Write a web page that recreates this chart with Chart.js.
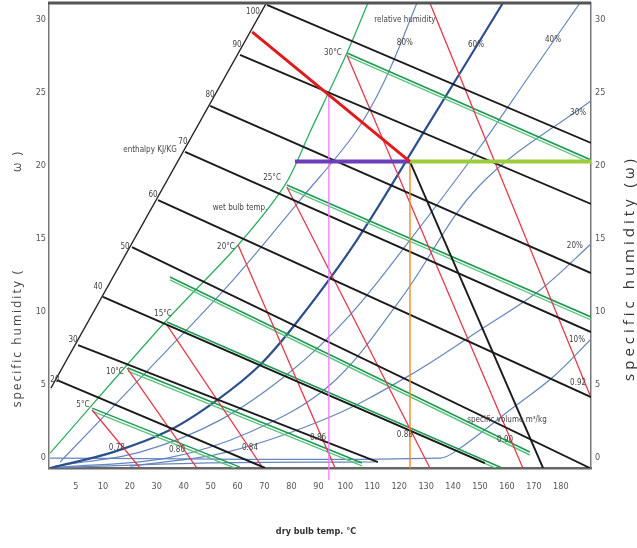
<!DOCTYPE html>
<html>
<head>
<meta charset="utf-8">
<script src="https://cdn.jsdelivr.net/npm/chart.js"></script>
<style>
  html, body { margin: 0; padding: 0; background: #fff; }
</style>
</head>
<body>
<canvas id="psyChart" width="637" height="548"></canvas>
<script>
// axis ticks
const xTickLabels = ['5','10','20','30','40','50','60','70','80','90','100','110','120','130','140','150','160','170','180'];
const yTicks = [0, 5, 10, 15, 20, 25, 30];

// enthalpy scale (slanted black line) and enthalpy lines, kJ/kg
const enthalpyScale = [[0.07, 4.79], [8.05, 31.10]];
const enthalpyValues = ['20','30','40','50','60','70','80','90','100'];
const enthalpyLines = [
  [[0.30, 5.34], [8.02, -0.68]],
  [[1.08, 7.74], [12.21, -0.27]],
  [[2.00, 11.03], [16.18, -0.34]],
  [[3.08, 14.45], [20.08, -0.68]],
  [[4.05, 17.67], [20.12, 4.18]],
  [[5.05, 20.96], [20.12, 8.63]],
  [[5.98, 24.11], [20.12, 12.67]],
  [[7.09, 27.60], [20.12, 17.40]],
  [[8.09, 31.03], [20.12, 21.58]]
];

// specific volume lines m3/kg
const volumeValues = ['0.78','0.80','0.84','0.86','0.88','0.90','0.92'];
const volumeLines = [
  [[1.60, 3.29], [3.38, -0.68]],
  [[2.90, 6.16], [5.49, -0.68]],
  [[4.38, 9.11], [7.94, -0.68]],
  [[7.02, 14.59], [10.62, -0.68]],
  [[8.83, 18.56], [14.14, -0.68]],
  [[11.06, 27.60], [17.59, -0.68]],
  [[14.14, 31.16], [20.08, 4.32]]
];

// saturation (green) and wet bulb lines
const saturationLine = [[0.04, 0.34], [4.31, 9.32], [7.02, 14.59], [8.76, 18.70], [9.69, 22.33], [11.06, 27.74], [11.84, 31.16]];
const wetBulbNames = ['5°C','10°C','15°C','20°C','25°C','30°C'];
const wetBulbLines = [
  [[1.60, 3.42], [7.09, -0.62]],
  [[2.93, 6.16], [11.62, -0.34]],
  [[4.38, 9.32], [16.82, -0.68]],
  [[4.49, 12.40], [17.85, 0.41]],
  [[8.83, 18.70], [20.12, 9.66]],
  [[11.06, 27.74], [20.12, 20.41]]
];

// relative humidity curves
const rh80 = [[0.41,-0.27],[3.75,6.16],[6.83,12.19],[9.32,17.67],[11.36,22.26],[12.47,25.89],[13.66,31.16]];
const rh60 = [[0.04,-0.68],[2.38,0.41],[4.49,1.92],[6.24,3.97],[7.83,6.37],[9.32,9.59],[11.43,14.93],[13.96,22.47],[16.85,31.16]];
const rh40 = [[0.22,-0.55],[3.38,0.41],[6.35,2.60],[8.95,5.89],[11.17,9.79],[13.40,14.93],[16.00,21.30],[17.85,26.23],[19.71,31.16]];
const rh30 = [[0.41,-0.62],[4.38,0.0],[7.46,1.78],[10.43,5.0],[13.03,10.82],[16.00,18.70],[20.16,24.52]];
const rh20 = [[3.01,-0.55],[6.61,0.41],[10.43,2.81],[13.40,5.68],[16.00,8.77],[18.23,11.51],[20.16,14.73]];
const rh10 = [[0.04,0.0],[14.51,0.0],[15.26,0.68],[17.11,3.29],[18.71,5.55],[20.16,8.22]];
const rh5  = [[0.04,-0.68],[5.61,-0.34],[12.10,-0.27]];

// process lines
const stateW = 20.3;
const coolingLine = [[7.54, 29.18], [13.40, stateW]];
const purpleLine = [[9.13, stateW], [13.40, stateW]];
const greenLine = [[13.40, stateW], [20.12, stateW]];
const orangeLine = [[13.40, stateW], [13.40, -0.68]];
const pinkLine = [[10.39, 24.86], [10.39, -1.5]];
const blackLine = [[13.40, stateW], [18.34, -0.68]];

// text on the chart: [text, x, y]
const notes = [
  ['relative humidity', 13.21, 30.0], ['80%', 13.21, 28.42], ['60%', 15.85, 28.29], ['40%', 18.71, 28.63],
  ['30%', 19.64, 23.63], ['20%', 19.52, 14.52], ['10%', 19.60, 8.08],
  ['enthalpy KJ/KG', 3.75, 21.10], ['wet bulb temp.', 7.09, 17.12],
  ['specific volume m³/kg', 17.0, 2.60]
];
const wetBulbSpots = [[1.26,3.63],[2.45,5.89],[4.23,9.86],[6.57,14.45],[8.28,19.18],[10.54,27.74]];
const enthalpySpots = [[0.22,5.34],[0.89,8.08],[1.82,11.71],[2.82,14.45],[3.86,18.01],[4.97,21.64],[5.98,24.86],[6.98,28.29],[7.57,30.55]];
const volumeSpots = [[2.52,0.68],[4.75,0.55],[7.46,0.68],[9.99,1.37],[13.21,1.58],[16.93,1.23],[19.64,5.14]];

const narrow = "'Liberation Sans Narrow', 'DejaVu Sans Condensed', 'Liberation Sans', sans-serif";

var datasets = [];
function addLine(pts, color, width, extra) {
  datasets.push(Object.assign({
    data: pts.map(p => ({x: p[0], y: p[1]})),
    borderColor: color, borderWidth: width,
    pointRadius: 0, showLine: true, fill: false, tension: 0
  }, extra || {}));
}

// painted bottom first
[rh5, rh10, rh20, rh30, rh40, rh80].forEach(c => addLine(c, '#6786bd', 1.2, {tension: 0.35}));
addLine(rh60, '#2d4f8c', 2.2, {tension: 0.35});
addLine(saturationLine, '#2faf62', 1.3, {tension: 0.3});
// wet bulb lines are drawn double, a lighter twin just under each one
wetBulbLines.forEach(l => {
  addLine(l.map(p => [p[0], p[1] - 0.2]), '#5cc47e', 1.4);
  addLine(l, '#1f9a52', 1.6);
});
volumeLines.forEach(l => addLine(l, '#e5394b', 1.3));
addLine(enthalpyScale, '#222', 1.3);
enthalpyLines.forEach(l => addLine(l, '#1b1b1b', 1.9));
addLine(pinkLine, '#ee7aee', 1.3, {clip: false});
addLine(orangeLine, '#f08a24', 1.4);
addLine(blackLine, '#1b1b1b', 1.9);
addLine(purpleLine, '#6b3fb8', 4);
addLine(greenLine, '#9ccc3c', 4);
addLine(coolingLine, '#e01b1b', 3);
datasets.reverse();

const textPlugin = {
  id: 'psyText',
  afterDatasetsDraw(chart) {
    const {ctx, chartArea} = chart;
    const x = chart.scales.x, y = chart.scales.y;
    ctx.save();
    // top frame line
    ctx.strokeStyle = '#555';
    ctx.lineWidth = 3;
    ctx.beginPath();
    ctx.moveTo(chartArea.left - 1, chartArea.top);
    ctx.lineTo(chartArea.right, chartArea.top);
    ctx.stroke();

    ctx.fillStyle = '#444';
    ctx.font = '8px ' + narrow;
    ctx.textAlign = 'center';
    ctx.textBaseline = 'middle';
    notes.forEach(n => ctx.fillText(n[0], x.getPixelForValue(n[1]), y.getPixelForValue(n[2])));
    wetBulbNames.forEach((t, i) => ctx.fillText(t, x.getPixelForValue(wetBulbSpots[i][0]), y.getPixelForValue(wetBulbSpots[i][1])));
    enthalpyValues.forEach((t, i) => ctx.fillText(t, x.getPixelForValue(enthalpySpots[i][0]), y.getPixelForValue(enthalpySpots[i][1])));
    volumeValues.forEach((t, i) => ctx.fillText(t, x.getPixelForValue(volumeSpots[i][0]), y.getPixelForValue(volumeSpots[i][1])));
    ctx.restore();
  },
  afterDraw(chart) {
    const ctx = chart.ctx;
    ctx.save();
    ctx.fillStyle = '#444';
    ctx.textAlign = 'center';
    ctx.textBaseline = 'middle';
    // left axis title
    ctx.font = "12px 'Open Sans', sans-serif";
    ctx.letterSpacing = '2px';
    ctx.save(); ctx.translate(18, 338); ctx.rotate(-Math.PI / 2);
    ctx.fillText('specific humidity (', 0, 0); ctx.restore();
    ctx.save(); ctx.translate(18, 161); ctx.rotate(-Math.PI / 2);
    ctx.fillText('ω )', 0, 0); ctx.restore();
    // right axis title
    ctx.fillStyle = '#333';
    ctx.font = "15px 'Open Sans', sans-serif";
    ctx.letterSpacing = '4px';
    ctx.save(); ctx.translate(630, 268); ctx.rotate(-Math.PI / 2);
    ctx.fillText('specific humidity (ω)', 0, 0); ctx.restore();
    // x axis title
    ctx.letterSpacing = '0px';
    ctx.fillStyle = '#333';
    ctx.font = "bold 9px " + narrow;
    ctx.fillText('dry bulb temp. °C', 316, 532);
    ctx.restore();
  }
};

const tickFont = { family: narrow, size: 9 };
function fitY(width) {
  return s => { s.width = width; s.paddingTop = 0; s.paddingBottom = 0; };
}

new Chart(document.getElementById('psyChart'), {
  type: 'scatter',
  data: { datasets: datasets },
  options: {
    responsive: false,
    animation: false,
    layout: { padding: { top: 3, left: 0, right: 0, bottom: 0 } },
    plugins: { legend: { display: false }, tooltip: { enabled: false } },
    scales: {
      x: {
        type: 'linear', position: 'bottom', min: 0, max: 20.12,
        afterFit: s => { s.height = 80; s.paddingLeft = 0; s.paddingRight = 0; },
        afterBuildTicks: s => { s.ticks = xTickLabels.map((t, i) => ({ value: i + 1 })); },
        ticks: {
          callback: v => xTickLabels[Math.round(v) - 1],
          font: tickFont, color: '#555', padding: 13, maxRotation: 0, autoSkip: false
        },
        grid: { display: false, drawTicks: false },
        border: { color: '#666', width: 2.5 }
      },
      y: {
        type: 'linear', position: 'left', min: -0.68, max: 31.16,
        afterFit: fitY(49),
        afterBuildTicks: s => { s.ticks = yTicks.map(v => ({ value: v })); },
        ticks: { font: tickFont, color: '#555', padding: 3 },
        grid: { display: false, drawTicks: false },
        border: { color: '#777', width: 1.5 }
      },
      y2: {
        type: 'linear', position: 'right', min: -0.68, max: 31.16,
        afterFit: fitY(46),
        afterBuildTicks: s => { s.ticks = yTicks.map(v => ({ value: v })); },
        ticks: { font: tickFont, color: '#555', padding: 4 },
        grid: { display: false, drawTicks: false },
        border: { color: '#777', width: 1.5 }
      }
    }
  },
  plugins: [textPlugin]
});
</script>
</body>
</html>
